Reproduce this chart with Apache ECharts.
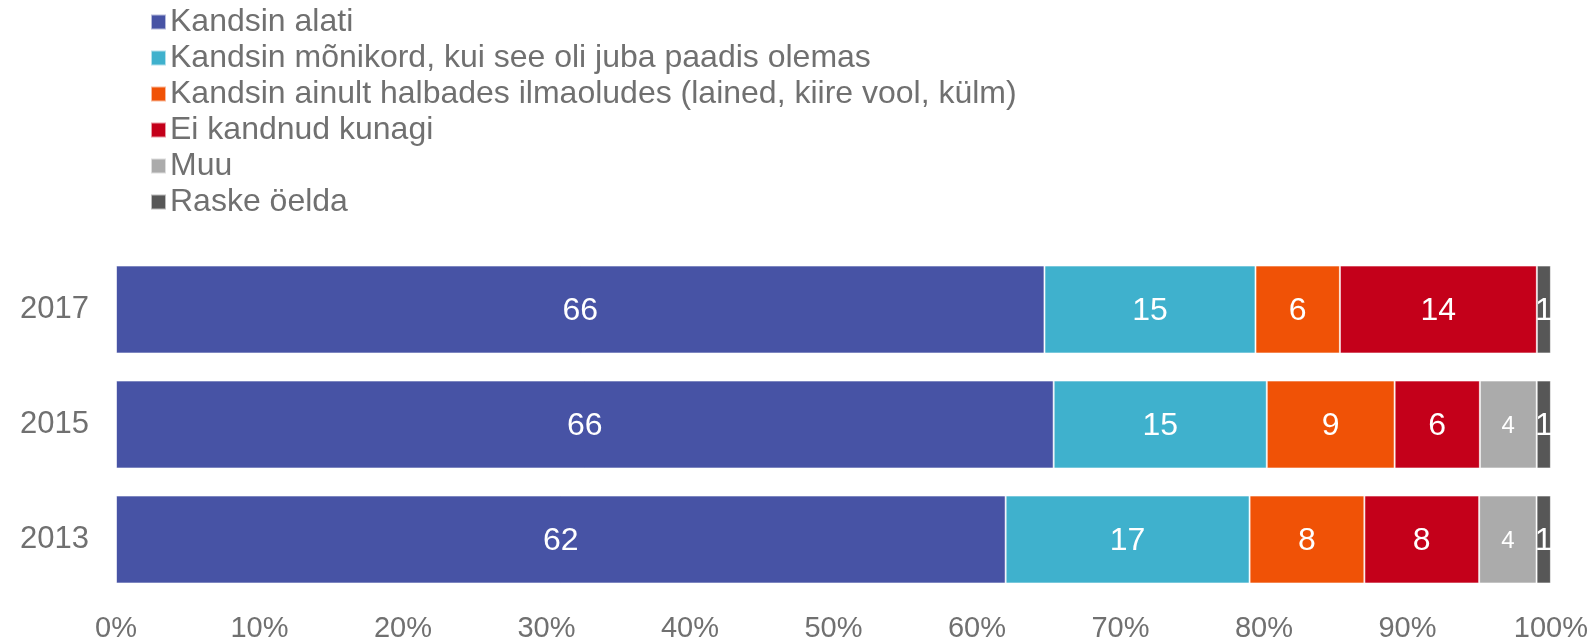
<!DOCTYPE html>
<html>
<head>
<meta charset="utf-8">
<script src="https://cdn.jsdelivr.net/npm/echarts@6/dist/echarts.min.js"></script>
<style>
  html, body { margin: 0; padding: 0; background: #fff; }
  #chart { width: 1591px; height: 643px; }
</style>
</head>
<body>
<div id="chart"></div>
<script>
// aastad (ülevalt alla)
var years = ['2017', '2015', '2013'];

var seriesNames = [
    'Kandsin alati',
    'Kandsin mõnikord, kui see oli juba paadis olemas',
    'Kandsin ainult halbades ilmaoludes (lained, kiire vool, külm)',
    'Ei kandnud kunagi',
    'Muu',
    'Raske öelda'
];

// vastused, järjekorras 2017, 2015, 2013
var alati = [66, 66, 62];
var monikord = [15, 15, 17];
var halbades = [6, 9, 8];
var kunagi = [14, 6, 8];
var muu = [null, 4, 4];
var raske = [1, 1, 1];

var xTicks = ['0%', '10%', '20%', '30%', '40%', '50%', '60%', '70%', '80%', '90%', '100%'];

var colors = ['#4753a5', '#3fb1cd', '#f05206', '#c4001a', '#ababab', '#575757'];

var rows = [alati, monikord, halbades, kunagi, muu, raske];

// rea summa, et tulp oleks 100%
var totals = years.map(function (y, i) {
    var s = 0;
    rows.forEach(function (r) { s += r[i] || 0; });
    return s;
});

var font = 'Liberation Sans, Arial, sans-serif';

var series = rows.map(function (r, k) {
    return {
        name: seriesNames[k],
        type: 'bar',
        stack: 'kokku',
        barWidth: 88,
        itemStyle: { color: colors[k], borderColor: 'rgba(255,255,255,0.6)', borderWidth: 1 },
        label: {
            show: true,
            position: 'inside',
            offset: [0, 2],
            color: '#fff',
            fontFamily: font,
            fontSize: k === 4 ? 24 : 32,
            formatter: function (p) { return r[p.dataIndex]; }
        },
        data: r.map(function (v, i) { return v == null ? null : v / totals[i] * 100; })
    };
});

var myChart = echarts.init(document.getElementById('chart'));
var option = {
    animation: false,
    color: colors,
    textStyle: { fontFamily: font },
    legend: {
        orient: 'vertical',
        left: 145,
        top: 1,
        itemWidth: 15,
        itemHeight: 15,
        itemGap: 4,
        icon: 'rect',
        selectedMode: false,
        textStyle: { color: '#707070', fontSize: 32, fontFamily: font, lineHeight: 25, padding: [0, 0, 0, -1] },
        data: seriesNames
    },
    grid: {
        left: 116,
        right: 40,
        top: 252,
        bottom: 45,
        containLabel: false
    },
    xAxis: {
        type: 'value',
        min: 0,
        max: 100,
        interval: 10,
        axisLine: { show: false },
        axisTick: { show: false },
        splitLine: { show: false },
        axisLabel: {
            color: '#707070',
            fontSize: 29,
            fontFamily: font,
            margin: 17,
            formatter: function (v) { return xTicks[Math.round(v / 10)]; }
        }
    },
    yAxis: {
        type: 'category',
        inverse: true,
        data: years,
        axisLine: { show: false },
        axisTick: { show: false },
        axisLabel: { color: '#707070', fontSize: 31, fontFamily: font, margin: 27 }
    },
    series: series
};
myChart.setOption(option);
</script>
</body>
</html>
